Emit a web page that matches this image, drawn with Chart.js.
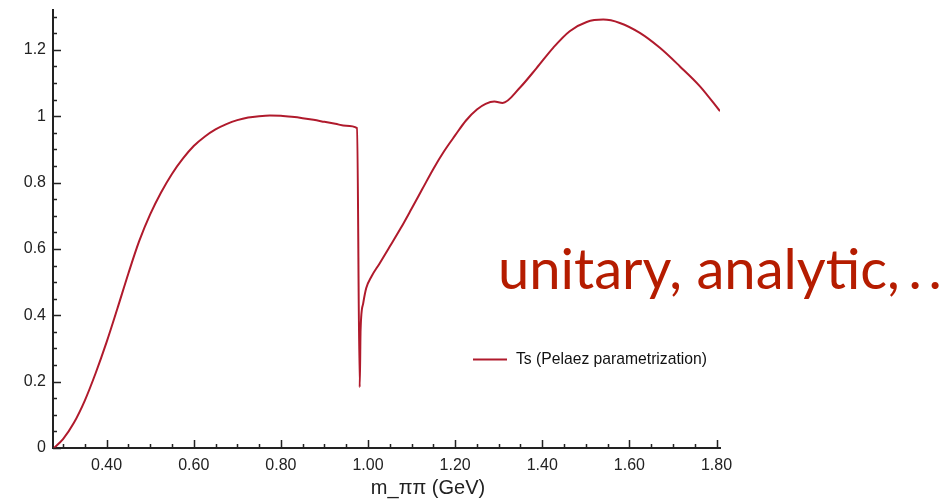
<!DOCTYPE html>
<html>
<head>
<meta charset="utf-8">
<script src="https://cdn.jsdelivr.net/npm/chart.js@4/dist/chart.umd.min.js"></script>
<style>
    html, body { margin:0; padding:0; background:#fff; }
    #wrap { width:946px; height:499px; position:relative; }
</style>
</head>
<body>
<div id="wrap"><canvas id="chartTs" width="946" height="499"></canvas></div>
<script>
// m_pipi in GeV
var massValues = [0.279, 0.300, 0.325, 0.350, 0.375, 0.400, 0.425, 0.450, 0.475, 0.500,
    0.525, 0.550, 0.575, 0.600, 0.625, 0.650, 0.675, 0.700, 0.725, 0.750,
    0.775, 0.800, 0.825, 0.850, 0.875, 0.900, 0.925, 0.950, 0.975, 0.981,
    0.983, 0.989, 0.996, 1.008, 1.027, 1.050, 1.075, 1.100, 1.125, 1.150,
    1.175, 1.200, 1.225, 1.250, 1.270, 1.290, 1.309, 1.348, 1.387, 1.425,
    1.463, 1.502, 1.540, 1.578, 1.624, 1.670, 1.716, 1.762, 1.808];
// Ts values
var tsValues = [0.000, 0.027, 0.076, 0.143, 0.226, 0.319, 0.421, 0.526, 0.624, 0.704,
    0.770, 0.826, 0.872, 0.910, 0.938, 0.960, 0.976, 0.988, 0.996, 1.000,
    1.002, 1.001, 0.998, 0.994, 0.989, 0.983, 0.977, 0.971, 0.964, 0.183,
    0.356, 0.436, 0.482, 0.517, 0.557, 0.607, 0.662, 0.721, 0.781, 0.841,
    0.895, 0.942, 0.987, 1.020, 1.037, 1.044, 1.040, 1.085, 1.145, 1.206,
    1.256, 1.284, 1.291, 1.281, 1.251, 1.206, 1.150, 1.090, 1.015];
var xTickValues = [0.40, 0.60, 0.80, 1.00, 1.20, 1.40, 1.60, 1.80];
var yTickValues = [0, 0.2, 0.4, 0.6, 0.8, 1, 1.2];
var seriesLabel = "Ts (Pelaez parametrization)";
var xTitle = "m_\u03c0\u03c0 (GeV)";
var overlayText = "unitary, analytic,";
var overlayDots = [".", "."];

var lineColor = '#b01a2c';
var textColor = '#b51c00';
var axisColor = '#222';

var points = [];
for(var i = 0; i < massValues.length; i++){
    points.push({x: massValues[i], y: tsValues[i]});
}

// inward tick marks, x-axis title, legend and slide text
var decorPlugin = {
    id: 'decor',
    afterDraw: function(chart){
        var ctx = chart.ctx;
        var area = chart.chartArea;
        var xs = chart.scales.x;
        var ys = chart.scales.y;
        ctx.save();
        ctx.strokeStyle = axisColor;
        ctx.lineWidth = 1.5;
        ctx.beginPath();
        for(var v = 0; v <= 1.3001; v += 0.05){
            var py = Math.round(ys.getPixelForValue(v)) + 0.5;
            var major = Math.abs(v / 0.2 - Math.round(v / 0.2)) < 0.01;
            ctx.moveTo(area.left, py);
            ctx.lineTo(area.left + (major ? 8 : 4), py);
        }
        for(var m = 0.30; m <= 1.8001; m += 0.05){
            var px = Math.round(xs.getPixelForValue(m)) + 0.5;
            var majorX = Math.abs(m / 0.2 - Math.round(m / 0.2)) < 0.01;
            ctx.moveTo(px, area.bottom);
            ctx.lineTo(px, area.bottom - (majorX ? 8 : 4));
        }
        ctx.stroke();

        // axis title
        ctx.fillStyle = axisColor;
        ctx.font = '20px "Liberation Sans", Arial, sans-serif';
        ctx.textAlign = 'center';
        ctx.textBaseline = 'alphabetic';
        ctx.fillText(xTitle, 428, 494);

        // legend
        var ds = chart.data.datasets[0];
        ctx.strokeStyle = ds.borderColor;
        ctx.lineWidth = 2;
        ctx.beginPath();
        ctx.moveTo(473, 359.5);
        ctx.lineTo(507, 359.5);
        ctx.stroke();
        ctx.font = '15.7px "Liberation Sans", Arial, sans-serif';
        ctx.textAlign = 'left';
        ctx.textBaseline = 'middle';
        ctx.fillStyle = '#111';
        ctx.fillText(ds.label, 516, 360);

        // big red text, sized to its width on the slide
        ctx.fillStyle = textColor;
        ctx.textBaseline = 'alphabetic';
        var size = 60;
        ctx.font = size + 'px Lato, "Open Sans", sans-serif';
        var w = ctx.measureText(overlayText).width;
        size = size * 402 / w;
        ctx.font = size + 'px Lato, "Open Sans", sans-serif';
        ctx.fillText(overlayText, 498, 289);
        ctx.textAlign = 'center';
        ctx.fillText(overlayDots[0], 915, 289);
        ctx.fillText(overlayDots[1], 935, 289);
        ctx.restore();
    }
};

var ctx = document.getElementById('chartTs').getContext('2d');
var chart = new Chart(ctx, {
    type: 'line',
    data: {
        datasets: [{
            label: seriesLabel,
            data: points,
            borderColor: lineColor,
            borderWidth: 2,
            pointRadius: 0,
            fill: false,
            cubicInterpolationMode: 'monotone'
        }]
    },
    options: {
        responsive: false,
        animation: false,
        devicePixelRatio: 1,
        layout: { padding: { top: 10, right: 226, left: 0, bottom: 0 } },
        plugins: {
            legend: { display: false },
            tooltip: { enabled: false }
        },
        scales: {
            x: {
                type: 'linear',
                min: 0.277,
                max: 1.808,
                afterFit: function(s){
                    s.height = 51;
                    s.paddingLeft = 0;
                    s.paddingRight = 0;
                },
                afterBuildTicks: function(s){
                    s.ticks = xTickValues.map(function(v){ return {value: v}; });
                },
                grid: { display: true, drawOnChartArea: false, drawTicks: false },
                border: { display: true, color: axisColor, width: 2 },
                ticks: {
                    padding: 8,
                    color: axisColor,
                    font: { family: '"Liberation Sans", Arial, sans-serif', size: 16 },
                    maxRotation: 0,
                    autoSkip: false,
                    callback: function(v){ return Number(v).toFixed(2); }
                }
            },
            y: {
                min: 0,
                max: 1.32,
                afterFit: function(s){
                    s.width = 53;
                    s.paddingTop = 0;
                    s.paddingBottom = 0;
                },
                afterBuildTicks: function(s){
                    s.ticks = yTickValues.map(function(v){ return {value: v}; });
                },
                grid: { display: true, drawOnChartArea: false, drawTicks: false },
                border: { display: true, color: axisColor, width: 2 },
                ticks: {
                    padding: 7,
                    color: axisColor,
                    font: { family: '"Liberation Sans", Arial, sans-serif', size: 16 },
                    autoSkip: false,
                    callback: function(v){ return String(Math.round(v * 10) / 10); }
                }
            }
        }
    },
    plugins: [decorPlugin]
});
</script>
</body>
</html>
